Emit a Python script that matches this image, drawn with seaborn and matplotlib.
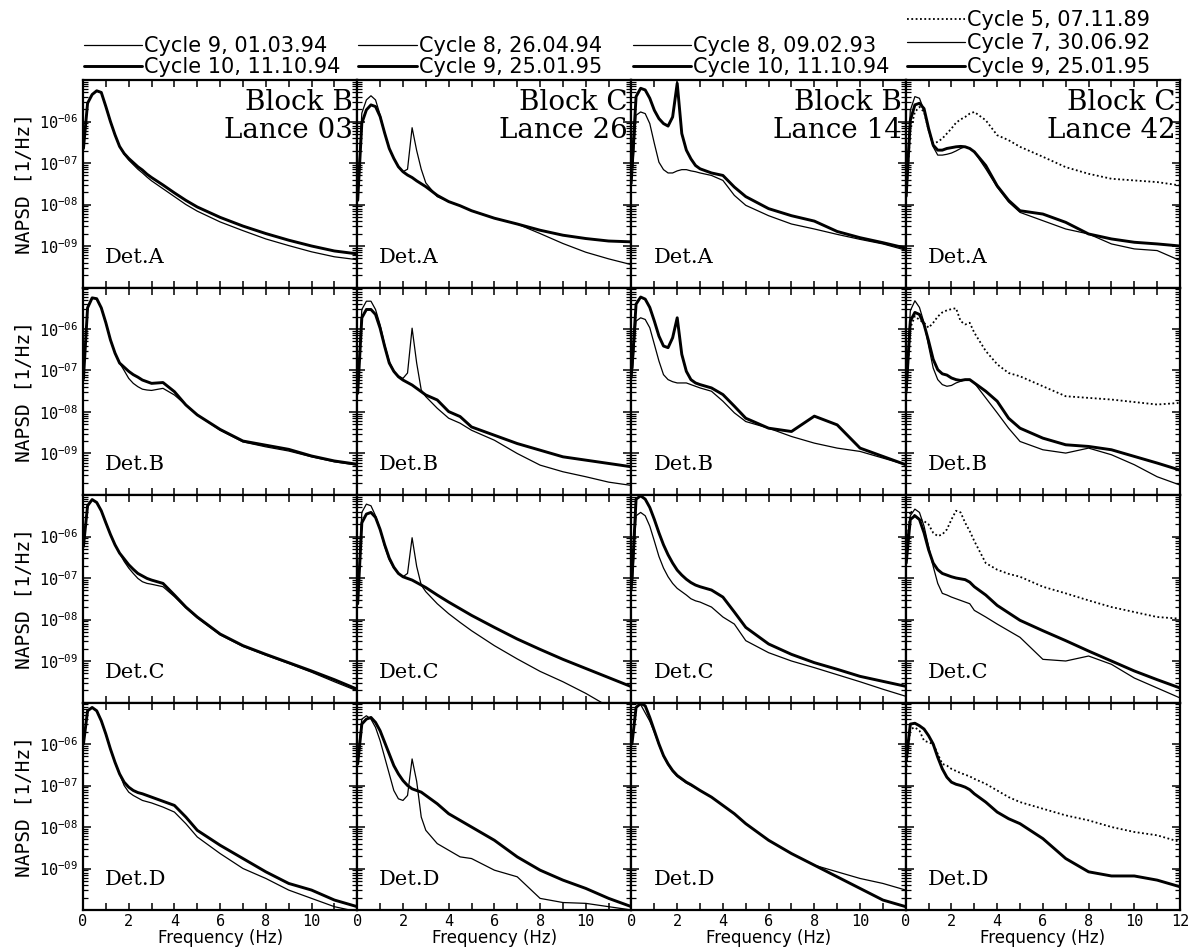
import numpy as np
import matplotlib
matplotlib.use("Agg")
import matplotlib.pyplot as plt
from matplotlib.lines import Line2D
from matplotlib.ticker import LogLocator, MultipleLocator, FuncFormatter, NullFormatter
import seaborn as sns


freq = [0.02, 0.2, 0.4, 0.6, 0.8, 1.0, 1.2, 1.4, 1.6, 1.8, 2.0, 2.2, 2.4, 2.6,
        2.8, 3.0, 3.5, 4.0, 4.5, 5.0, 6.0, 7.0, 8.0, 9.0, 10.0, 11.0, 12.0]

# log10 NAPSD [1/Hz], name = lance _ detector _ cycle
# Block B, Lance 03
l03_a_c9 = [-6.65, -5.56, -5.35, -5.27, -5.30, -5.64, -6.00, -6.32, -6.60, -6.79, -6.93, -7.04, -7.15, -7.24,
            -7.34, -7.43, -7.62, -7.81, -8.00, -8.16, -8.42, -8.63, -8.83, -8.99, -9.14, -9.26, -9.33]
l03_a_c10 = [-6.65, -5.56, -5.35, -5.26, -5.30, -5.64, -6.00, -6.32, -6.60, -6.77, -6.89, -6.99, -7.09, -7.17,
             -7.27, -7.35, -7.53, -7.72, -7.90, -8.06, -8.31, -8.52, -8.70, -8.86, -9.00, -9.12, -9.19]
l03_b_c9 = [-7.20, -5.49, -5.25, -5.27, -5.49, -5.85, -6.26, -6.58, -6.82, -7.00, -7.19, -7.31, -7.39, -7.45,
            -7.47, -7.48, -7.43, -7.59, -7.83, -8.07, -8.44, -8.72, -8.84, -8.94, -9.08, -9.20, -9.28]
l03_b_c10 = [-7.20, -5.49, -5.25, -5.27, -5.49, -5.85, -6.26, -6.58, -6.82, -6.92, -7.02, -7.10, -7.16, -7.23,
             -7.27, -7.31, -7.29, -7.51, -7.83, -8.07, -8.42, -8.70, -8.80, -8.90, -9.06, -9.18, -9.26]
l03_c_c9 = [-6.24, -5.26, -5.11, -5.18, -5.38, -5.67, -5.95, -6.20, -6.40, -6.60, -6.76, -6.89, -7.01, -7.09,
            -7.13, -7.15, -7.21, -7.45, -7.72, -7.96, -8.37, -8.65, -8.86, -9.06, -9.27, -9.50, -9.72]
l03_c_c10 = [-6.24, -5.26, -5.11, -5.18, -5.38, -5.67, -5.95, -6.20, -6.40, -6.54, -6.68, -6.79, -6.89, -6.95,
             -7.01, -7.05, -7.13, -7.41, -7.70, -7.94, -8.35, -8.63, -8.84, -9.04, -9.24, -9.45, -9.68]
l03_d_c9 = [-6.00, -5.20, -5.12, -5.20, -5.44, -5.76, -6.12, -6.44, -6.72, -7.00, -7.16, -7.24, -7.30, -7.36,
            -7.39, -7.42, -7.52, -7.64, -7.92, -8.24, -8.64, -9.00, -9.24, -9.52, -9.72, -9.92, -10.04]
l03_d_c10 = [-6.00, -5.20, -5.12, -5.20, -5.44, -5.76, -6.12, -6.44, -6.72, -6.92, -7.04, -7.12, -7.17, -7.20,
             -7.24, -7.28, -7.38, -7.48, -7.76, -8.08, -8.44, -8.76, -9.08, -9.36, -9.52, -9.76, -9.92]

# Block C, Lance 26
l26_a_c8 = [-7.70, -5.80, -5.48, -5.38, -5.48, -5.84, -6.28, -6.65, -6.89, -7.09, -7.21, -7.15, -6.15, -6.70,
            -7.15, -7.48, -7.81, -7.93, -8.03, -8.15, -8.33, -8.47, -8.70, -8.94, -9.15, -9.31, -9.45]
l26_a_c9 = [-7.90, -6.04, -5.72, -5.60, -5.64, -5.88, -6.28, -6.65, -6.89, -7.09, -7.21, -7.29, -7.35, -7.43,
            -7.50, -7.57, -7.78, -7.93, -8.03, -8.15, -8.33, -8.47, -8.62, -8.74, -8.82, -8.88, -8.90]
l26_b_c8 = [-7.30, -5.53, -5.33, -5.33, -5.53, -5.90, -6.38, -6.78, -7.02, -7.13, -7.19, -7.06, -5.98, -6.82,
            -7.47, -7.63, -7.91, -8.15, -8.27, -8.44, -8.68, -9.00, -9.28, -9.44, -9.56, -9.69, -9.77]
l26_b_c9 = [-7.55, -5.73, -5.53, -5.53, -5.65, -5.98, -6.42, -6.82, -7.02, -7.15, -7.23, -7.29, -7.35, -7.43,
            -7.51, -7.59, -7.71, -7.99, -8.11, -8.36, -8.56, -8.76, -8.92, -9.08, -9.16, -9.24, -9.32]
l26_c_c8 = [-7.46, -5.42, -5.22, -5.26, -5.50, -5.83, -6.24, -6.56, -6.76, -6.89, -6.97, -6.89, -6.03, -6.72,
            -7.17, -7.33, -7.62, -7.86, -8.07, -8.27, -8.63, -8.95, -9.25, -9.50, -9.78, -10.10, -10.30]
l26_c_c9 = [-7.62, -5.67, -5.46, -5.42, -5.54, -5.83, -6.20, -6.52, -6.74, -6.89, -6.97, -7.01, -7.05, -7.11,
            -7.17, -7.23, -7.41, -7.58, -7.74, -7.90, -8.19, -8.47, -8.72, -8.96, -9.18, -9.40, -9.62]
l26_d_c8 = [-6.32, -5.40, -5.32, -5.40, -5.60, -5.92, -6.32, -6.72, -7.12, -7.32, -7.36, -7.24, -6.36, -6.90,
            -7.76, -8.08, -8.40, -8.56, -8.72, -8.76, -9.04, -9.20, -9.72, -9.82, -9.84, -9.92, -10.00]
l26_d_c9 = [-6.48, -5.52, -5.40, -5.36, -5.48, -5.68, -5.96, -6.24, -6.52, -6.72, -6.88, -7.00, -7.08, -7.12,
            -7.16, -7.24, -7.44, -7.68, -7.84, -8.00, -8.32, -8.72, -9.04, -9.28, -9.48, -9.72, -9.92]

# Block B, Lance 14
l14_a_c8 = [-7.50, -5.85, -5.77, -5.81, -6.05, -6.53, -6.98, -7.16, -7.24, -7.24, -7.19, -7.16, -7.16, -7.19,
            -7.21, -7.24, -7.30, -7.42, -7.78, -8.02, -8.27, -8.47, -8.59, -8.72, -8.84, -8.95, -9.10]
l14_a_c10 = [-7.10, -5.40, -5.20, -5.24, -5.44, -5.73, -5.93, -6.05, -6.11, -5.89, -5.08, -6.29, -6.69, -6.90,
             -7.06, -7.14, -7.24, -7.30, -7.58, -7.81, -8.10, -8.27, -8.40, -8.65, -8.80, -8.92, -9.05]
l14_b_c8 = [-7.18, -5.81, -5.73, -5.77, -5.97, -6.37, -6.77, -7.10, -7.22, -7.27, -7.30, -7.30, -7.30, -7.34,
            -7.38, -7.42, -7.50, -7.74, -8.02, -8.23, -8.39, -8.59, -8.75, -8.87, -8.95, -9.11, -9.27]
l14_b_c10 = [-6.94, -5.40, -5.23, -5.28, -5.48, -5.81, -6.17, -6.41, -6.45, -6.21, -5.73, -6.61, -7.02, -7.22,
             -7.30, -7.34, -7.42, -7.58, -7.86, -8.15, -8.39, -8.47, -8.10, -8.31, -8.87, -9.07, -9.27]
l14_c_c8 = [-7.29, -5.50, -5.42, -5.50, -5.75, -6.11, -6.48, -6.76, -6.97, -7.13, -7.25, -7.33, -7.41, -7.50,
            -7.55, -7.58, -7.70, -7.94, -8.11, -8.51, -8.80, -9.00, -9.16, -9.33, -9.50, -9.68, -9.85]
l14_c_c10 = [-7.05, -5.10, -5.02, -5.10, -5.30, -5.59, -5.91, -6.20, -6.44, -6.64, -6.81, -6.93, -7.03, -7.11,
             -7.17, -7.21, -7.29, -7.46, -7.82, -8.19, -8.59, -8.84, -9.04, -9.20, -9.37, -9.49, -9.61]
l14_d_c8 = [-6.00, -5.12, -5.05, -5.25, -5.45, -5.72, -6.02, -6.30, -6.50, -6.66, -6.78, -6.86, -6.94, -7.00,
            -7.06, -7.12, -7.28, -7.48, -7.68, -7.92, -8.32, -8.64, -8.92, -9.08, -9.24, -9.36, -9.52]
l14_d_c10 = [-6.00, -5.12, -5.02, -5.08, -5.36, -5.68, -6.00, -6.28, -6.48, -6.64, -6.76, -6.84, -6.92, -6.98,
             -7.05, -7.12, -7.28, -7.48, -7.68, -7.92, -8.32, -8.64, -8.92, -9.20, -9.48, -9.76, -9.92]

# Block C, Lance 42
l42_a_c5 = [-7.80, -6.21, -5.77, -5.65, -5.77, -6.21, -6.53, -6.49, -6.41, -6.29, -6.17, -6.03, -5.95, -5.89,
            -5.81, -5.77, -5.97, -6.33, -6.45, -6.61, -6.85, -7.10, -7.26, -7.38, -7.42, -7.46, -7.54]
l42_a_c7 = [-7.60, -5.73, -5.40, -5.44, -5.73, -6.21, -6.61, -6.81, -6.81, -6.79, -6.76, -6.71, -6.65, -6.61,
            -6.65, -6.73, -7.14, -7.58, -7.94, -8.19, -8.39, -8.59, -8.71, -8.95, -9.07, -9.11, -9.35]
l42_a_c9 = [-7.80, -5.97, -5.60, -5.56, -5.69, -6.17, -6.57, -6.69, -6.69, -6.65, -6.63, -6.61, -6.60, -6.61,
            -6.65, -6.73, -7.06, -7.55, -7.90, -8.15, -8.23, -8.43, -8.71, -8.83, -8.91, -8.95, -9.00]
l42_b_c5 = [-7.58, -5.97, -5.69, -5.78, -5.85, -5.97, -5.85, -5.70, -5.60, -5.55, -5.52, -5.50, -5.81, -5.89,
            -5.85, -6.09, -6.53, -6.85, -7.06, -7.14, -7.38, -7.62, -7.66, -7.70, -7.76, -7.82, -7.78]
l42_b_c7 = [-7.34, -5.56, -5.32, -5.48, -5.85, -6.41, -6.94, -7.22, -7.34, -7.38, -7.36, -7.30, -7.26, -7.22,
            -7.22, -7.30, -7.66, -8.02, -8.39, -8.71, -8.91, -8.99, -8.87, -9.03, -9.27, -9.56, -9.76]
l42_b_c9 = [-7.50, -5.81, -5.60, -5.65, -5.89, -6.29, -6.73, -6.98, -7.08, -7.11, -7.18, -7.22, -7.24, -7.22,
            -7.22, -7.30, -7.50, -7.74, -8.15, -8.39, -8.63, -8.79, -8.83, -8.91, -9.07, -9.23, -9.40]
l42_c_c5 = [-6.40, -5.38, -5.50, -5.59, -5.63, -5.71, -5.91, -5.99, -5.95, -5.83, -5.59, -5.38, -5.42, -5.67,
            -5.87, -6.11, -6.64, -6.80, -6.90, -6.97, -7.21, -7.37, -7.54, -7.70, -7.82, -7.94, -7.98]
l42_c_c7 = [-6.24, -5.50, -5.34, -5.42, -5.75, -6.24, -6.72, -7.13, -7.37, -7.41, -7.46, -7.50, -7.54, -7.58,
            -7.62, -7.78, -7.94, -8.11, -8.27, -8.43, -8.96, -9.00, -8.88, -9.08, -9.41, -9.65, -9.89]
l42_c_c9 = [-6.64, -5.59, -5.50, -5.59, -5.91, -6.32, -6.64, -6.80, -6.89, -6.93, -6.97, -7.00, -7.02, -7.04,
            -7.10, -7.21, -7.41, -7.66, -7.84, -8.02, -8.27, -8.51, -8.76, -9.00, -9.24, -9.45, -9.65]
l42_d_c5 = [-6.64, -5.64, -5.60, -5.68, -5.92, -5.96, -6.00, -6.24, -6.48, -6.52, -6.60, -6.65, -6.70, -6.74,
            -6.78, -6.84, -6.96, -7.12, -7.28, -7.40, -7.56, -7.72, -7.84, -8.00, -8.12, -8.20, -8.36]
l42_d_c9 = [-6.40, -5.52, -5.50, -5.56, -5.64, -5.80, -6.00, -6.32, -6.60, -6.80, -6.92, -6.97, -7.00, -7.04,
            -7.10, -7.20, -7.40, -7.64, -7.80, -7.92, -8.28, -8.76, -9.08, -9.18, -9.18, -9.28, -9.44]

blocks = ["Block B", "Block C", "Block B", "Block C"]
lances = ["Lance 03", "Lance 26", "Lance 14", "Lance 42"]
detectors = ["Det.A", "Det.B", "Det.C", "Det.D"]
cycles = [
    ["Cycle 9, 01.03.94", "Cycle 10, 11.10.94"],
    ["Cycle 8, 26.04.94", "Cycle 9, 25.01.95"],
    ["Cycle 8, 09.02.93", "Cycle 10, 11.10.94"],
    ["Cycle 5, 07.11.89", "Cycle 7, 30.06.92", "Cycle 9, 25.01.95"],
]
kinds = [["thin", "thick"], ["thin", "thick"], ["thin", "thick"], ["dot", "thin", "thick"]]

STYLE = {
    "thin": dict(linewidth=0.9, linestyle="-"),
    "thick": dict(linewidth=2.1, linestyle="-"),
    "dot": dict(linewidth=1.3, linestyle=(0, (1, 1.4))),
}


def ylabel_fmt(v, pos):
    e = int(round(np.log10(v)))
    if -9 <= e <= -6:
        return r"$\mathregular{10^{-%02d}}$" % (-e)
    return ""


def main():
    sns.set_style("ticks")
    plt.rcParams["font.family"] = ["DejaVu Sans"]
    # plain black text everywhere, like the printed original
    for key in ("text.color", "axes.labelcolor", "xtick.color", "ytick.color"):
        plt.rcParams[key] = "black"

    # rows = detectors, columns = lances; entries follow `cycles` order
    napsd = [
        [[l03_a_c9, l03_a_c10], [l26_a_c8, l26_a_c9], [l14_a_c8, l14_a_c10], [l42_a_c5, l42_a_c7, l42_a_c9]],
        [[l03_b_c9, l03_b_c10], [l26_b_c8, l26_b_c9], [l14_b_c8, l14_b_c10], [l42_b_c5, l42_b_c7, l42_b_c9]],
        [[l03_c_c9, l03_c_c10], [l26_c_c8, l26_c_c9], [l14_c_c8, l14_c_c10], [l42_c_c5, l42_c_c7, l42_c_c9]],
        [[l03_d_c9, l03_d_c10], [l26_d_c8, l26_d_c9], [l14_d_c8, l14_d_c10], [l42_d_c5, None, l42_d_c9]],
    ]

    W, H = 1194, 949
    fig, axes = plt.subplots(4, 4, figsize=(W / 100, H / 100), dpi=100)
    fig.subplots_adjust(left=83 / W, right=1180 / W, top=1 - 80 / H, bottom=1 - 910 / H,
                        wspace=0, hspace=0)

    mono = "DejaVu Sans Mono"
    for r in range(4):
        for c in range(4):
            ax = axes[r, c]
            ax.set_yscale("log")
            for vals, kind in zip(napsd[r][c], kinds[c]):
                if vals is None:
                    continue
                sns.lineplot(x=freq, y=10 ** np.array(vals), ax=ax, color="black",
                             estimator=None, **STYLE[kind])
            ax.set_xlim(0, 12)
            ax.set_ylim(1e-10, 1e-5)

            ax.xaxis.set_major_locator(MultipleLocator(1))
            last = c == 3
            ax.xaxis.set_major_formatter(FuncFormatter(
                lambda v, p, last=last: f"{int(round(v))}" if (round(v) % 2 == 0 and (v < 11.5 or last)) else ""))
            ax.yaxis.set_major_locator(LogLocator(base=10, subs=(1.0,), numticks=20))
            ax.yaxis.set_minor_locator(LogLocator(base=10, subs=np.arange(2, 10), numticks=20))
            ax.yaxis.set_major_formatter(FuncFormatter(ylabel_fmt))
            ax.yaxis.set_minor_formatter(NullFormatter())

            ax.tick_params(which="both", direction="in", top=True, right=True, color="black",
                           labelcolor="black", labelleft=(c == 0), labelbottom=(r == 3))
            ax.tick_params(which="major", length=6, width=1.1)
            ax.tick_params(which="minor", length=3.5, width=0.9)
            ax.tick_params(axis="x", which="major", length=5, pad=3)
            for lab in ax.get_xticklabels() + ax.get_yticklabels():
                lab.set_fontfamily(mono)
                lab.set_fontsize(11)
            for sp in ax.spines.values():
                sp.set_linewidth(1.6)
                sp.set_color("black")
            ax.set_xlabel("")
            ax.set_ylabel("")

            ax.text(0.08, 0.145, detectors[r], transform=ax.transAxes, ha="left", va="center",
                    family="DejaVu Serif", fontsize=15, color="black")
            if r == 0:
                ax.text(0.985, 0.955, blocks[c] + "\n" + lances[c], transform=ax.transAxes,
                        ha="right", va="top", family="DejaVu Serif", fontsize=20, color="black",
                        multialignment="right", linespacing=1.05)
            if c == 0:
                ax.set_ylabel("NAPSD [1/Hz]", family=mono, fontsize=14, labelpad=4, color="black")
            if r == 3:
                ax.set_xlabel("Frequency (Hz)", fontsize=12, labelpad=0, color="black")

    # one legend per column, above the top row
    for c in range(4):
        handles = [Line2D([], [], color="black", **STYLE[k]) for k in kinds[c]]
        x0 = axes[0, c].get_position().x0
        leg = fig.legend(handles, cycles[c], loc="lower left", bbox_to_anchor=(x0 + 1 / W, 1 - 77 / H),
                         frameon=False, handlelength=2.8, handletextpad=0.1,
                         labelspacing=0.17 if c == 3 else 0.05,
                         borderpad=0, borderaxespad=0, fontsize=15)
        for t in leg.get_texts():
            t.set_color("black")

    fig.savefig("out.png", dpi=100, facecolor="white")


if __name__ == "__main__":
    main()
